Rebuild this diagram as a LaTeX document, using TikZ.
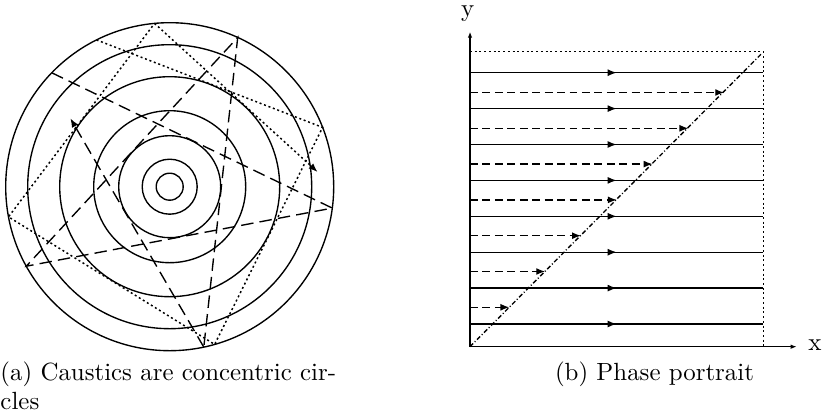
\documentclass[tikz,border=0pt]{standalone}
\usetikzlibrary{calc,arrows.meta,decorations.markings}
\begin{document}
\begin{tikzpicture}[x=0.402pt,y=-0.402pt,
  thinline/.style={line width=0.55pt},
  caus/.style={line width=0.55pt, dash pattern=on 5pt off 2.5pt},
  dotl/.style={line width=0.6pt, dash pattern=on 0.8pt off 1.1pt},
  tipend/.style={-{Latex[length=3.6pt,width=2.8pt]}},
  axistip/.style={-{Latex[length=2.4pt,width=1.8pt]}},
  midarrow/.style={postaction={decorate},decoration={markings,mark=at position 0.5 with {\arrow{Latex[length=3.6pt,width=2.8pt]}}}},
  flow/.style={line width=0.55pt, dash pattern=on 3.2pt off 1.8pt},
  diagl/.style={line width=0.55pt, dash pattern=on 1.8pt off 0.9pt on 0.4pt off 0.9pt},
  ]
\useasboundingbox (0,0) rectangle (823,415);

% ---------- (a) circles ----------
\coordinate (C) at (169.7,186.7);
\foreach \r in {164,142,110,76,51,27.5,13.5}
  \draw[thinline] (C) circle[radius=\r];

% dashed caustic (tangent to r=51)
\coordinate (d1) at ($(C)+(-136:164)$);
\coordinate (d2) at ($(C)+(7.5:164)$);
\coordinate (d3) at ($(C)+(151:164)$);
\coordinate (d4) at ($(C)+(-65.5:164)$);
\coordinate (d5) at ($(C)+(78:164)$);
\coordinate (d6) at ($(C)+(-138.5:164)$);
\draw[caus] (d1)--(d2)--(d3)--(d4)--(d5);
\draw[caus,tipend] (d5) -- ($(d5)!0.85!(d6)$);

% dotted caustic (tangent to r=110)
\coordinate (t1) at ($(C)+(-116.5:164)$);
\coordinate (t2) at ($(C)+(-21.2:164)$);
\coordinate (t3) at ($(C)+(74.1:164)$);
\coordinate (t4) at ($(C)+(169.4:164)$);
\coordinate (t5) at ($(C)+(264.7:164)$);
\coordinate (t6) at ($(C)+(360:164)$);
\draw[dotl] (t1)--(t2)--(t3)--(t4)--(t5);
\draw[dotl,tipend] (t5) -- ($(t5)!0.91!(t6)$);

% ---------- (b) phase portrait ----------
\coordinate (O) at (470,346.7);
\coordinate (ytip) at (470,31.7);
\coordinate (xtip) at (796.7,346.7);
\coordinate (TL) at (470,51.7);
\coordinate (TR) at (763.3,51.7);
\coordinate (BR) at (763.3,346.7);
\coordinate (DE) at (762,53.2);

\draw[dotl] (TL) -- (TR) -- (BR);

\foreach \i in {0,...,7}{
  \pgfmathsetmacro\yy{324-35.9*\i}
  \draw[thinline,midarrow] (470,\yy) -- (763.3,\yy);
}
\foreach \j in {0,...,6}{
  \pgfmathsetmacro\yy{307.3-35.8*\j}
  \pgfmathsetmacro\xx{470+346.7-\yy}
  \draw[flow,tipend] (470,\yy) -- (\xx,\yy);
}
\draw[diagl] (O) -- (DE);

\draw[thinline,axistip] (O) -- (ytip);
\draw[thinline,axistip] (O) -- (xtip);
\node (ylab) at (467.7,14) {y};
\node (xlab) at (815,345) {x};

% ---------- captions ----------
\node[anchor=base west, inner sep=0] (capa1) at (0,380) {(a) Caustics are concentric cir-};
\node[anchor=base west, inner sep=0] (capa2) at (0,409) {cles};
\node[anchor=base, inner sep=0] (capb) at (654.5,380) {(b) Phase portrait};
\end{tikzpicture}
\end{document}
